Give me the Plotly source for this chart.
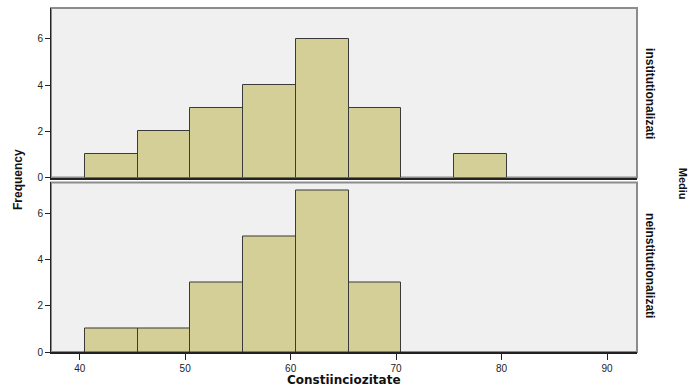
import plotly.graph_objects as go
from plotly.subplots import make_subplots

# Data (histogram bins: width 5, starting at 40.5)
bin_starts_top = [40.5, 45.5, 50.5, 55.5, 60.5, 65.5, 75.5]
counts_top = [1, 2, 3, 4, 6, 3, 1]
bin_starts_bottom = [40.5, 45.5, 50.5, 55.5, 60.5, 65.5]
counts_bottom = [1, 1, 3, 5, 7, 3]
bin_width = 5
groups = ["institutionalizati", "neinstitutionalizati"]
x_ticks = [40, 50, 60, 70, 80, 90]
y_ticks = [0, 2, 4, 6]

fill = "#d3cf97"
edge = "#3a3a3a"
bg = "#f0f0f0"
frame = "#8c8c8c"

fig = make_subplots(rows=2, cols=1, shared_xaxes=True, vertical_spacing=0.0145)

for r, (starts, counts) in enumerate([(bin_starts_top, counts_top), (bin_starts_bottom, counts_bottom)], start=1):
    centers = [s + bin_width / 2 for s in starts]
    fig.add_trace(go.Bar(x=centers, y=counts, width=[bin_width] * len(counts),
                         marker=dict(color=fill, line=dict(color=edge, width=1)),
                         showlegend=False, hoverinfo="skip"), row=r, col=1)
    ax = "" if r == 1 else str(r)
    fig.add_shape(type="rect", xref=f"x{ax} domain", yref=f"y{ax} domain",
                  x0=0, x1=1, y0=0, y1=1, line=dict(color=frame, width=2),
                  fillcolor=bg, layer="below")

font = dict(family="Liberation Sans, Arial, sans-serif", color="#222")
for r in (1, 2):
    fig.update_yaxes(range=[0, 7.34], tickvals=y_ticks, ticks="outside", ticklen=5,
                     tickcolor="#222", showline=True, linecolor="#222", linewidth=1,
                     showgrid=False, zeroline=False, tickfont=dict(size=10, **font),
                     row=r, col=1)
    fig.update_xaxes(range=[37.28, 92.84], tickvals=x_ticks, showline=True,
                     linecolor="#222", linewidth=1.5, showgrid=False, zeroline=False,
                     tickfont=dict(size=10, **font), row=r, col=1)
fig.update_xaxes(ticks="", showticklabels=False, row=1, col=1)
fig.update_xaxes(ticks="outside", ticklen=6, tickcolor="#222", showticklabels=True, row=2, col=1)

narrow = "Liberation Sans Narrow, Liberation Sans, Arial"
fig.update_layout(
    width=689, height=388,
    margin=dict(l=51, r=52, t=8, b=36),
    paper_bgcolor="white", plot_bgcolor=bg,
    bargap=0, font=font,
    annotations=[
        dict(text="<b>Frequency</b>", xref="paper", yref="paper", x=-0.0563, y=0.5,
             textangle=-90, showarrow=False, font=dict(size=12, family="Liberation Sans, Arial", color="#111"),
             xanchor="center", yanchor="middle"),
        dict(text="<b>Constiinciozitate</b>", xref="paper", yref="paper", x=0.5, y=-0.0814,
             showarrow=False, font=dict(size=12, family="DejaVu Sans, Verdana", color="#111"),
             xanchor="center", yanchor="middle"),
        dict(text="<b>" + groups[0] + "</b>", xref="paper", yref="paper", x=1.022, y=0.75,
             textangle=90, showarrow=False, font=dict(size=12, family=narrow, color="#111"),
             xanchor="center", yanchor="middle"),
        dict(text="<b>" + groups[1] + "</b>", xref="paper", yref="paper", x=1.022, y=0.25,
             textangle=90, showarrow=False, font=dict(size=12, family=narrow, color="#111"),
             xanchor="center", yanchor="middle"),
        dict(text="<b>Mediu</b>", xref="paper", yref="paper", x=1.078, y=0.49,
             textangle=90, showarrow=False, font=dict(size=11, family="Liberation Sans, Arial", color="#111"),
             xanchor="center", yanchor="middle"),
    ],
)

fig.write_html("out.html", config={"displayModeBar": False},
               post_script="document.body.style.margin='0';")
